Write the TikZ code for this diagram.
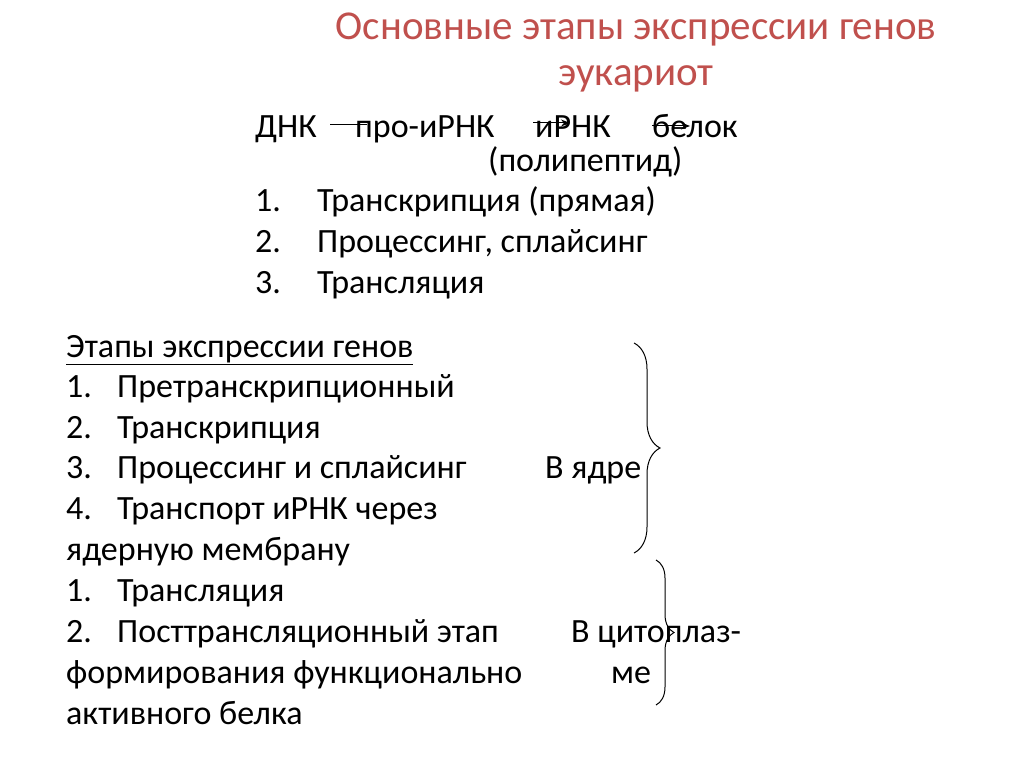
\documentclass[tikz,border=0pt]{standalone}
\usepackage{fontspec}
\setmainfont{Carlito}
\usetikzlibrary{decorations.pathreplacing,arrows.meta}
\definecolor{ttl}{RGB}{192,80,77}
\begin{document}
\begin{tikzpicture}[x=1pt,y=-1pt,
 txt/.style={anchor=base west,inner sep=0pt,font=\fontsize{34}{38}\selectfont},
 ttlst/.style={anchor=base,inner sep=0pt,text=ttl,font=\fontsize{41}{44}\selectfont},
 arr/.style={-{Stealth[length=9pt,width=7pt]},line width=1pt},
 br/.style={decorate,decoration={brace,amplitude=26pt},line width=1pt}]
\useasboundingbox[fill=white] (0,0) rectangle (1024,767);
\node[ttlst] (t1) at (636,40) {Основные этапы экспрессии генов};
\node[ttlst] (t2) at (636,86) {эукариот};
\node[txt] (dnk) at (255,138) {ДНК};
\node[txt] (pro) at (355,138) {про-иРНК};
\node[txt] (irnk) at (535,138) {иРНК};
\node[txt] (bel) at (652,138) {белок};
\coordinate (a1s) at (330,125); \coordinate (a1e) at (367,125);
\coordinate (a2s) at (533,123); \coordinate (a2e) at (570,123);
\coordinate (a3s) at (652,126); \coordinate (a3e) at (690,126);
\draw[line width=1pt] (a1s) -- (a1e);
\draw[arr] (a2s) -- (a2e);
\draw[arr] (a3s) -- (a3e);
\node[txt] (poli) at (488,172) {(полипептид)};
\node[txt] (n1) at (255,212) {1.}; \node[txt] (s1) at (317,212) {Транскрипция (прямая)};
\node[txt] (n2) at (255,252) {2.}; \node[txt] (s2) at (317,252) {Процессинг, сплайсинг};
\node[txt] (n3) at (255,293) {3.}; \node[txt] (s3) at (317,293) {Трансляция};
\node[txt] (h) at (66,357) {\underline{Этапы экспрессии генов}};
\node[txt] (m1) at (66,397) {1.}; \node[txt] (l1) at (117,397) {Претранскрипционный};
\node[txt] (m2) at (66,438) {2.}; \node[txt] (l2) at (117,438) {Транскрипция};
\node[txt] (m3) at (66,478) {3.}; \node[txt] (l3) at (117,478) {Процессинг и сплайсинг};
\node[txt] (m4) at (66,519) {4.}; \node[txt] (l4) at (117,519) {Транспорт иРНК через};
\node[txt] (l5) at (66,560) {ядерную мембрану};
\node[txt] (m6) at (66,601) {1.}; \node[txt] (l6) at (117,601) {Трансляция};
\node[txt] (m7) at (66,642) {2.}; \node[txt] (l7) at (117,642) {Посттрансляционный этап};
\node[txt] (l8) at (66,683) {формирования функционально};
\node[txt] (l9) at (66,724) {активного белка};
\node[txt] (vya) at (545,478) {В ядре};
\node[txt] (vc) at (571,642) {В цитоплаз-};
\node[txt] (me) at (611,683) {ме};
\coordinate (b1t) at (634,343); \coordinate (b1b) at (634,553);
\coordinate (b2t) at (656,560); \coordinate (b2b) at (656,705);
\draw[br] (b1t) -- (b1b);
\draw[br,decoration={amplitude=18pt}] (b2t) -- (b2b);
\end{tikzpicture}
\end{document}
